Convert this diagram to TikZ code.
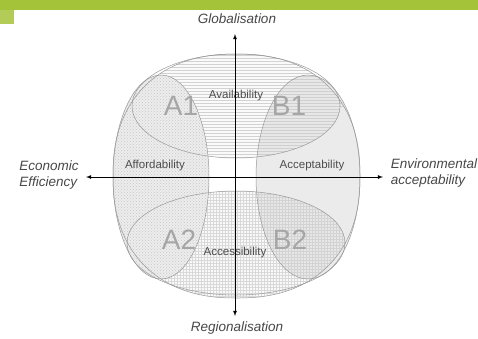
\documentclass[tikz,border=0pt]{standalone}
\usepackage{fontspec}
\setmainfont{Liberation Sans}
\usetikzlibrary{patterns,arrows}
\definecolor{bargreen}{HTML}{A4C339}
% rounded outer hull of the four zones
\newcommand{\hullpath}{
  plot[domain=0.5:89.5,samples=40,variable=\t] ({236.5+123.5*cos(\t)^0.87},{176-122*sin(\t)^0.87})
  -- plot[domain=89.5:0.5,samples=40,variable=\t] ({236.5-123.5*cos(\t)^0.87},{176-122*sin(\t)^0.87})
  -- plot[domain=0.5:89.5,samples=40,variable=\t] ({236.5-123.5*cos(\t)^0.87},{176+122*sin(\t)^0.87})
  -- plot[domain=89.5:0.5,samples=40,variable=\t] ({236.5+123.5*cos(\t)^0.87},{176+122*sin(\t)^0.87})
  -- cycle}
\begin{document}
\begin{tikzpicture}[x=1pt, y=-1pt, >=latex,
    axis_style/.style={draw=black, thick},
    pole_style/.style={font=\fontsize{13.5}{15.5}\selectfont\itshape, text=black!72, align=left},
    zone_style/.style={draw=black!40, line width=0.5pt},
    quad_style/.style={font=\fontsize{28}{30}\selectfont, text=black!35},
    word_style/.style={font=\fontsize{11.5}{13}\selectfont, text=black!70}]
      \useasboundingbox (0,0) rectangle (478,338);
      % header bar
      \fill[bargreen] (0,0) rectangle (478,10);
      \fill[bargreen!85] (0,10) rectangle (14,24);
      % zones
      \begin{scope}
        \clip \hullpath;
        \fill[gray!4] (0,0) rectangle (478,106);
        \fill[gray!4] (236,106) ellipse [x radius=104, y radius=52];
        \fill[pattern=horizontal lines, pattern color=gray!35] (0,0) rectangle (478,106);
        \fill[pattern=horizontal lines, pattern color=gray!35] (236,106) ellipse [x radius=104, y radius=52];
        \fill[gray!5] (0,243) rectangle (478,338);
        \fill[gray!5] (236,243) ellipse [x radius=109, y radius=52];
        \fill[pattern=grid, pattern color=gray!30] (0,243) rectangle (478,338);
        \fill[pattern=grid, pattern color=gray!30] (236,243) ellipse [x radius=109, y radius=52];
      \end{scope}
      \fill[gray!14] (161,177) ellipse [x radius=48, y radius=102];
      \fill[pattern=crosshatch dots, pattern color=gray!45] (161,177) ellipse [x radius=48, y radius=102];
      \fill[gray!40, fill opacity=0.4] (308,177) ellipse [x radius=52, y radius=102];
      \draw[zone_style] \hullpath;
      \draw[zone_style] (236,106) ellipse [x radius=104, y radius=52];
      \draw[zone_style] (236,243) ellipse [x radius=109, y radius=52];
      \draw[zone_style] (161,177) ellipse [x radius=48, y radius=102];
      \draw[zone_style] (308,177) ellipse [x radius=52, y radius=102];
      % labels
      \draw
        (237,19) node[pole_style] (glob){Globalisation}
        (237,328) node[pole_style] (reg){Regionalisation}
        (49,175) node[pole_style] (econ){Economic\\Efficiency}
        (434,173) node[pole_style] (env){Environmental\\acceptability}
        (181,106) node[quad_style] (a1){A1}
        (289,106) node[quad_style] (b1){B1}
        (179,240) node[quad_style] (a2){A2}
        (290,240) node[quad_style] (b2){B2}
        (236,96) node[word_style] (avail){Availability}
        (155,166) node[word_style] (afford){Affordability}
        (312,166) node[word_style] (accept){Acceptability}
        (235,253) node[word_style] (access){Accessibility};
      \coordinate (top) at (235,34);
      \coordinate (bot) at (235,316);
      \coordinate (lft) at (86,177);
      \coordinate (rgt) at (383,177);
      \begin{scope}[->]
        \draw[axis_style] (235,177) to (top);
        \draw[axis_style] (235,177) to (bot);
        \draw[axis_style] (235,177) to (lft);
        \draw[axis_style] (235,177) to (rgt);
      \end{scope}
\end{tikzpicture}
\end{document}
